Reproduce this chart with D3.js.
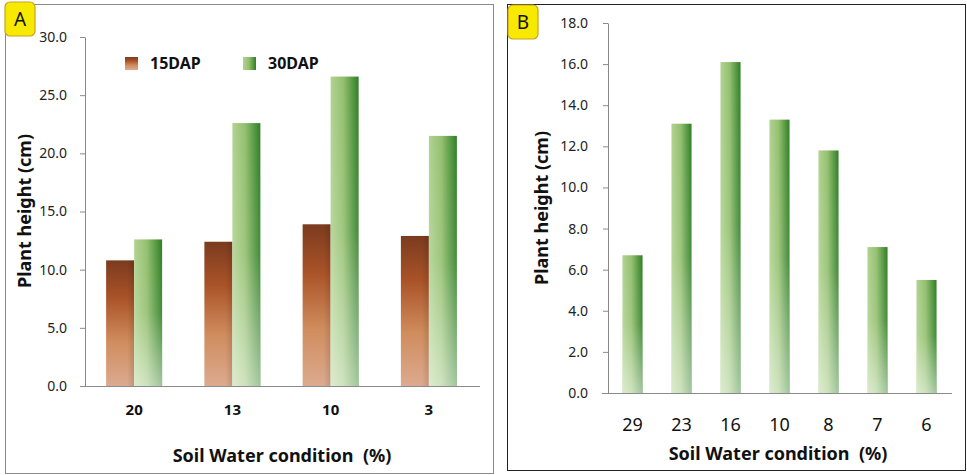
<!DOCTYPE html>
<html><head><meta charset="utf-8">
<script src="https://cdn.jsdelivr.net/npm/d3@7"></script>
<style>body{margin:0;background:#fff}svg{display:block}text{font-family:"Noto Sans","Open Sans",sans-serif;white-space:pre}</style>
</head><body>
<svg id="c" width="967" height="475"></svg>
<script>
const catsA = ["20", "13", "10", "3"];
const seriesA = ["15DAP", "30DAP"];
const dap15 = [10.8, 12.4, 13.9, 12.9];
const dap30 = [12.6, 22.6, 26.6, 21.5];
const ticksA = [0, 5, 10, 15, 20, 25, 30];
const catsB = ["29", "23", "16", "10", "8", "7", "6"];
const valsB = [6.7, 13.1, 16.1, 13.3, 11.8, 7.1, 5.5];
const ticksB = [0, 2, 4, 6, 8, 10, 12, 14, 16, 18];
const xTitle = "Soil Water condition  (%)";
const yTitle = "Plant height (cm)";

const svg = d3.select("#c");
const defs = svg.append("defs");
const gb = defs.append("linearGradient").attr("id","brown").attr("x1",0).attr("y1",0).attr("x2",0).attr("y2",1);
[[0,"#7b3b1f"],[0.3,"#aa5328"],[0.65,"#d08d5e"],[1,"#dcaa90"]].forEach(s=>gb.append("stop").attr("offset",s[0]).attr("stop-color",s[1]));
const gbh = defs.append("linearGradient").attr("id","brownH").attr("x1",0).attr("y1",0).attr("x2",1).attr("y2",0);
[[0,"#000",0],[0.75,"#000",0],[1,"#000",0.12]].forEach(s=>gbh.append("stop").attr("offset",s[0]).attr("stop-color",s[1]).attr("stop-opacity",s[2]));
const gg = defs.append("linearGradient").attr("id","green").attr("x1",0).attr("y1",0).attr("x2",1).attr("y2",0);
[[0,"#b2d392"],[0.45,"#94c070"],[1,"#2f7f26"]].forEach(s=>gg.append("stop").attr("offset",s[0]).attr("stop-color",s[1]));
const gv = defs.append("linearGradient").attr("id","greenV").attr("x1",0).attr("y1",0).attr("x2",0).attr("y2",1);
[[0,"#fff",0],[0.5,"#fff",0.1],[1,"#fff",0.55]].forEach(s=>gv.append("stop").attr("offset",s[0]).attr("stop-color",s[1]).attr("stop-opacity",s[2]));

svg.append("rect").attr("x",5.5).attr("y",4.5).attr("width",488).attr("height",469).attr("fill","none").attr("stroke","#8a8a8a");
svg.append("rect").attr("x",507.5).attr("y",4.5).attr("width",458).attr("height",466).attr("fill","none").attr("stroke","#222");

function labelBox(x,y,t){
  svg.append("rect").attr("x",x).attr("y",y).attr("width",30).attr("height",34).attr("rx",5)
    .attr("fill","#f7ea00").attr("stroke","#c9a227").attr("stroke-width",1.2);
  svg.append("text").attr("x",x+15).attr("y",y+24).attr("text-anchor","middle").attr("font-size",19).attr("fill","#111").text(t);
}

function yAxis(scale, x, ticks, pad){
  const g = svg.append("g").attr("transform",`translate(${x},0)`)
    .call(d3.axisLeft(scale).tickValues(ticks).tickFormat(d3.format(".1f")).tickSize(5).tickSizeOuter(0).tickPadding(pad));
  g.selectAll("path,line").attr("stroke","#8a8a8a");
  g.selectAll("text").attr("font-size",14).attr("fill","#222").style("font-family","'Noto Sans',sans-serif");
  return g;
}

// ---------- Panel A ----------
const yA = d3.scaleLinear().domain([0,30]).range([386,37]);
const xA = d3.scaleBand().domain(catsA).range([85,478]).paddingInner(0.43).paddingOuter(0.215);
const xSub = d3.scaleBand().domain(seriesA).range([0, xA.bandwidth()]);
yAxis(yA, 85, ticksA, 13);
const gA = svg.append("g");
const dataA = catsA.map((c,i)=>({c, v:[dap15[i], dap30[i]]}));
dataA.forEach(d=>{
  seriesA.forEach((s,j)=>{
    const x = xA(d.c)+xSub(s), w = xSub.bandwidth(), y = yA(d.v[j]), h = yA(0)-yA(d.v[j]);
    if(j===0){
      gA.append("rect").attr("x",x).attr("y",y).attr("width",w).attr("height",h).attr("fill","url(#brown)");
      gA.append("rect").attr("x",x).attr("y",y).attr("width",w).attr("height",h).attr("fill","url(#brownH)");
    } else {
      gA.append("rect").attr("x",x).attr("y",y).attr("width",w).attr("height",h).attr("fill","url(#green)");
      gA.append("rect").attr("x",x).attr("y",y).attr("width",w).attr("height",h).attr("fill","url(#greenV)");
    }
  });
});
svg.append("line").attr("x1",xA.range()[0]-5).attr("x2",xA.range()[1]+2).attr("y1",yA(0)+0.5).attr("y2",yA(0)+0.5).attr("stroke","#8a8a8a");
const xAxA = svg.append("g").attr("transform",`translate(0,${yA(0)})`).call(d3.axisBottom(xA).tickSize(0).tickPadding(18));
xAxA.select(".domain").remove();
xAxA.selectAll("text").attr("font-size",15).attr("font-weight","bold").attr("fill","#111").style("font-family","'Noto Sans',sans-serif");
svg.append("text").attr("x",282).attr("y",462).attr("text-anchor","middle").attr("font-size",18).attr("font-weight","bold").attr("fill","#111").text(xTitle);
svg.append("text").attr("transform","translate(31,211) rotate(-90)").attr("text-anchor","middle").attr("font-size",18).attr("font-weight","bold").attr("fill","#111").text(yTitle);
const legX = [125, 243];
seriesA.forEach((s,j)=>{
  svg.append("rect").attr("x",legX[j]).attr("y",57).attr("width",13).attr("height",13).attr("fill", j===0?"url(#brown)":"url(#green)");
  svg.append("text").attr("x",legX[j]+25).attr("y",69).attr("font-size",16).attr("font-weight","bold").attr("fill","#111").text(s);
});
labelBox(5,2,"A");

// ---------- Panel B ----------
const yB = d3.scaleLinear().domain([0,18]).range([393,23]);
const xB = d3.scaleBand().domain(catsB).range([608,951]).paddingInner(0.59).paddingOuter(0.295);
yAxis(yB, 608, ticksB, 15);
const gB = svg.append("g");
catsB.forEach((c,i)=>{
  const x = xB(c), w = xB.bandwidth(), y = yB(valsB[i]), h = yB(0)-yB(valsB[i]);
  gB.append("rect").attr("x",x).attr("y",y).attr("width",w).attr("height",h).attr("fill","url(#green)");
  gB.append("rect").attr("x",x).attr("y",y).attr("width",w).attr("height",h).attr("fill","url(#greenV)");
});
svg.append("line").attr("x1",xB.range()[0]-6).attr("x2",xB.range()[1]+1).attr("y1",yB(0)+0.5).attr("y2",yB(0)+0.5).attr("stroke","#8a8a8a");
const xAxB = svg.append("g").attr("transform",`translate(0,${yB(0)})`).call(d3.axisBottom(xB).tickSize(0).tickPadding(25));
xAxB.select(".domain").remove();
xAxB.selectAll("text").attr("font-size",18).attr("fill","#111").style("font-family","'Noto Sans',sans-serif");
svg.append("text").attr("x",778).attr("y",460).attr("text-anchor","middle").attr("font-size",18).attr("font-weight","bold").attr("fill","#111").text(xTitle);
svg.append("text").attr("transform","translate(548,208) rotate(-90)").attr("text-anchor","middle").attr("font-size",18).attr("font-weight","bold").attr("fill","#111").text(yTitle);
labelBox(508,5,"B");
</script>
</body></html>
